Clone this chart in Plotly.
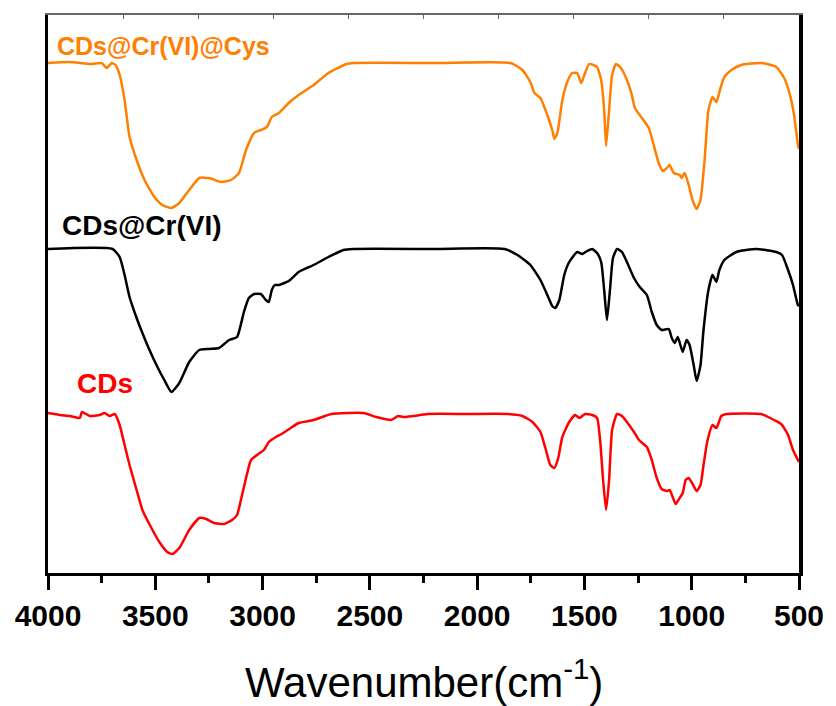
import plotly.graph_objects as go

# FTIR spectra (wavenumber, offset transmittance in arbitrary units)
cys_wn = [4000, 3900, 3800, 3750, 3726, 3703, 3685, 3666, 3643, 3620, 3587, 3550, 3504, 3467, 3425,
          3388, 3342, 3295, 3249, 3193, 3147, 3110, 3077, 3040, 3008, 2980, 2957, 2924, 2878, 2832,
          2762, 2693, 2609, 2577, 2200, 1844, 1789, 1752, 1733, 1705, 1673, 1650, 1640, 1626, 1603,
          1580, 1557, 1534, 1515, 1497, 1478, 1459, 1441, 1422, 1408, 1399, 1385, 1371, 1353, 1330,
          1302, 1279, 1265, 1232, 1200, 1177, 1154, 1135, 1116, 1103, 1084, 1056, 1047, 1033, 1014,
          996, 977, 959, 940, 922, 903, 885, 866, 848, 815, 769, 676, 606, 569, 542, 523, 505, 500]
cys_t = [510, 511, 509, 510, 505, 510, 508, 498, 473, 436, 413, 393, 376, 368, 365,
         370, 383, 395, 395, 391, 393, 400, 423, 440, 443, 446, 456, 460, 470, 478,
         488, 500, 509, 510, 510, 510, 503, 491, 480, 475, 458, 443, 434, 440, 473,
         491, 500, 500, 490, 500, 509, 508, 506, 493, 463, 427, 463, 498, 509, 505,
         493, 478, 465, 455, 445, 428, 410, 402, 405, 408, 400, 398, 395, 400, 388,
         373, 364, 373, 413, 463, 476, 471, 485, 496, 503, 508, 510, 506, 495, 478, 458, 428, 424]

cr_wn = [4000, 3699, 3666, 3643, 3620, 3587, 3560, 3527, 3490, 3458, 3425, 3388, 3342, 3295, 3249,
         3203, 3156, 3119, 3087, 3064, 3040, 3008, 2985, 2971, 2957, 2943, 2924, 2878, 2832, 2762,
         2693, 2623, 2577, 2200, 1872, 1812, 1752, 1705, 1673, 1650, 1636, 1617, 1594, 1571, 1534,
         1510, 1487, 1464, 1441, 1422, 1408, 1395, 1381, 1367, 1348, 1325, 1302, 1269, 1242, 1209,
         1186, 1163, 1140, 1107, 1093, 1079, 1065, 1042, 1024, 1010, 991, 977, 959, 945, 922,
         903, 885, 871, 848, 792, 699, 606, 579, 551, 528, 505, 500]
cr_t = [324, 324, 316, 298, 276, 255, 240, 223, 206, 193, 181, 190, 211, 223, 224,
        225, 233, 236, 261, 275, 279, 279, 273, 271, 283, 288, 288, 292, 301, 308,
        316, 323, 324, 324, 324, 318, 308, 293, 278, 267, 265, 273, 298, 311, 321,
        319, 322, 324, 320, 311, 283, 253, 283, 315, 324, 321, 311, 295, 286, 278,
        261, 248, 243, 244, 235, 230, 236, 221, 233, 228, 208, 192, 208, 243, 283,
        298, 291, 303, 313, 321, 324, 321, 318, 303, 288, 268, 267]

cds_wn = [4000, 3944, 3898, 3852, 3842, 3805, 3759, 3736, 3713, 3689, 3666, 3643, 3620, 3587, 3560,
          3518, 3481, 3444, 3420, 3388, 3342, 3295, 3263, 3226, 3179, 3142, 3119, 3101, 3077, 3054,
          3026, 2994, 2971, 2938, 2911, 2869, 2832, 2762, 2679, 2530, 2470, 2401, 2368, 2345, 2299,
          2229, 2044, 1858, 1789, 1742, 1705, 1682, 1659, 1640, 1622, 1603, 1571, 1543, 1524, 1497,
          1464, 1441, 1427, 1413, 1399, 1385, 1371, 1348, 1325, 1302, 1269, 1246, 1209, 1186, 1163,
          1140, 1116, 1103, 1089, 1075, 1056, 1042, 1028, 1014, 996, 977, 959, 945, 926, 903,
          885, 862, 838, 676, 616, 583, 551, 528, 505, 500]
cds_t = [160, 158, 157, 155, 161, 157, 158, 160, 157, 159, 148, 128, 108, 83, 63,
         45, 31, 21, 19, 25, 43, 55, 54, 50, 49, 53, 58, 73, 95, 113,
         118, 123, 131, 136, 139, 145, 150, 153, 159, 160, 156, 153, 157, 156, 157,
         159, 159, 159, 157, 151, 141, 125, 108, 105, 115, 136, 151, 158, 155, 159,
         158, 155, 133, 93, 63, 93, 143, 159, 157, 151, 141, 133, 126, 113, 95,
         84, 82, 83, 76, 69, 75, 80, 93, 95, 89, 82, 88, 108, 133, 148,
         145, 157, 159, 159, 153, 149, 138, 123, 113, 111]

labels = ["CDs@Cr(VI)@Cys", "CDs@Cr(VI)", "CDs"]
colors = ["#FF8000", "#000000", "#FF0000"]

major_ticks = [4000, 3500, 3000, 2500, 2000, 1500, 1000, 500]
minor_ticks = [3750, 3250, 2750, 2250, 1750, 1250, 750]
top_ticks = [4000, 3650, 3300, 2950, 2600, 2250, 1900, 1550, 1200, 850, 500]

fig = go.Figure()
for wn, t, c, name in [(cys_wn, cys_t, colors[0], labels[0]),
                       (cr_wn, cr_t, colors[1], labels[1]),
                       (cds_wn, cds_t, colors[2], labels[2])]:
    fig.add_trace(go.Scatter(x=wn, y=t, mode="lines", name=name,
                             line=dict(color=c, width=2.5, shape="spline", smoothing=0.5),
                             showlegend=False))

# invisible trace to realise the top and right frame axes
fig.add_trace(go.Scatter(x=[4000], y=[0], xaxis="x2", yaxis="y2", mode="markers",
                         marker=dict(opacity=0), showlegend=False, hoverinfo="skip"))

font = "Liberation Sans, Arial, sans-serif"

fig.update_layout(
    width=836, height=706,
    margin=dict(l=48, r=33, t=15, b=133),
    paper_bgcolor="white", plot_bgcolor="white",
    xaxis=dict(range=[4000, 500], showgrid=False, zeroline=False,
               showline=True, linecolor="black", linewidth=2.5,
               ticks="outside", ticklen=14, tickwidth=2.5, tickcolor="black",
               tickmode="array", tickvals=major_ticks,
               ticktext=[str(v) for v in major_ticks],
               tickfont=dict(family=font, size=30, color="black", weight="bold"),
               minor=dict(ticks="outside", ticklen=7, tickwidth=2.5, tickcolor="black",
                          tickvals=minor_ticks, showgrid=False),
               fixedrange=True),
    xaxis2=dict(range=[4000, 500], overlaying="x", side="top", showgrid=False, zeroline=False,
                showline=True, linecolor="#666666", linewidth=1.5,
                ticks="inside", ticklen=4, tickwidth=1, tickcolor="#666666",
                tickmode="array", tickvals=top_ticks, showticklabels=False),
    yaxis=dict(range=[0, 558], showgrid=False, zeroline=False, showline=True,
               linecolor="black", linewidth=2.5, ticks="", showticklabels=False),
    yaxis2=dict(range=[0, 558], overlaying="y", side="right", showgrid=False, zeroline=False,
                showline=True, linecolor="black", linewidth=3.5, ticks="", showticklabels=False),
)

fig.add_annotation(x=3968, y=527, xref="x", yref="y", text="<b>" + labels[0] + "</b>",
                   showarrow=False, xanchor="left", yanchor="middle",
                   font=dict(family=font, size=25, color=colors[0]))
fig.add_annotation(x=3944, y=348, xref="x", yref="y", text="<b>" + labels[1] + "</b>",
                   showarrow=False, xanchor="left", yanchor="middle",
                   font=dict(family=font, size=28, color=colors[1]))
fig.add_annotation(x=3875, y=190, xref="x", yref="y", text="<b>" + labels[2] + "</b>",
                   showarrow=False, xanchor="left", yanchor="middle",
                   font=dict(family=font, size=28, color=colors[2]))

fig.add_annotation(x=0.5, y=-0.19, xref="paper", yref="paper",
                   text="Wavenumber(cm<sup>-1</sup>)", showarrow=False,
                   xanchor="center", yanchor="middle",
                   font=dict(family=font, size=42, color="black"))

fig.write_html("out.html")
